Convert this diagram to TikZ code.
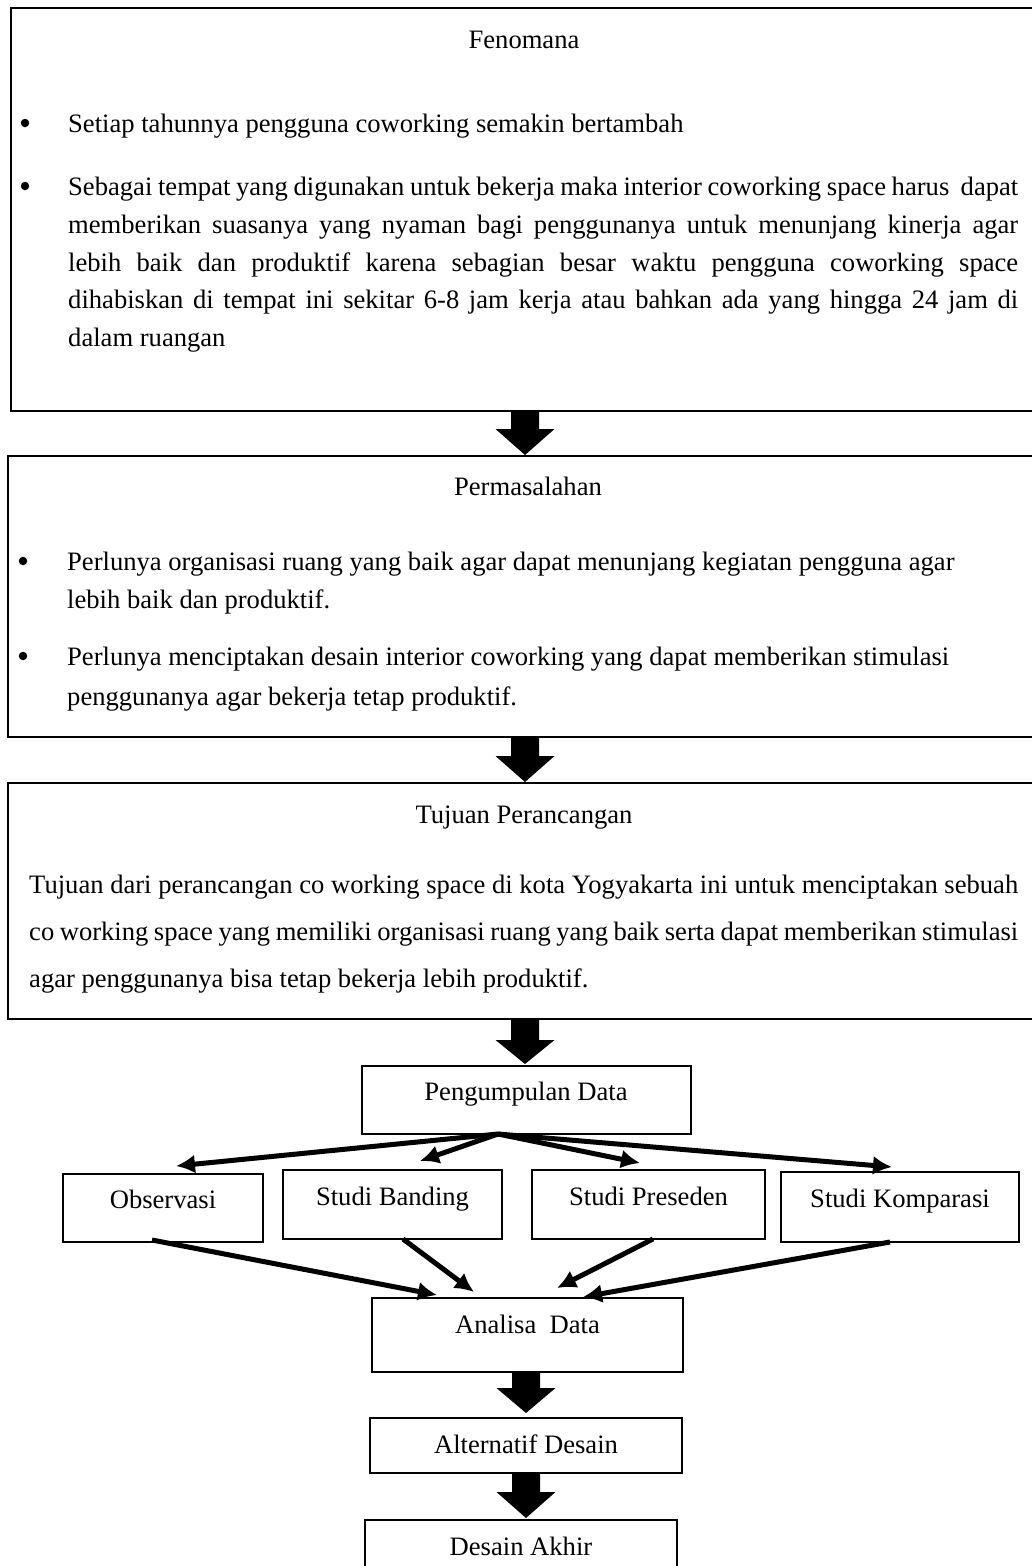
\documentclass[tikz,border=0pt]{standalone}
\usepackage{fontspec}
\setmainfont{Liberation Serif}
\usetikzlibrary{arrows.meta}
\newcommand\blockarr[4]{\fill[black] (#1-14,#2) -- (#1+14,#2) -- (#1+14,#3) -- (#1+29.5,#3) -- (#1,#4) -- (#1-29.5,#3) -- (#1-14,#3) -- cycle;}
\begin{document}
\begin{tikzpicture}[x=1pt,y=-1pt,
  frame/.style={draw=black, line width=1.4pt, inner sep=0pt, fill=none},
  txt/.style={inner sep=0pt, anchor=base, font=\fontsize{26.6}{32}\selectfont},
  txtl/.style={txt, anchor=base west},
  bul/.style={circle, fill=black, inner sep=0pt, minimum size=8.5pt},
  link/.style={line width=5pt, -{Latex[length=19pt,width=19pt]}}]
\clip (0,0) rectangle (1032,1566);
\fill[white] (0,0) rectangle (1032,1566);
% boxes
\node[frame, minimum width=1024pt, minimum height=403pt] (b1) at (523,209.5) {};
\node[frame, minimum width=1027pt, minimum height=281pt] (b2) at (521.5,596.5) {};
\node[frame, minimum width=1027pt, minimum height=236pt] (b3) at (521.5,901) {};
\node[frame, minimum width=329pt, minimum height=68pt] (pd) at (526.5,1100) {};
\node[frame, minimum width=200pt, minimum height=68pt] (obs) at (163,1208) {};
\node[frame, minimum width=219pt, minimum height=69pt] (ban) at (392.5,1204.5) {};
\node[frame, minimum width=233pt, minimum height=69pt] (pre) at (648.5,1204.5) {};
\node[frame, minimum width=238pt, minimum height=70pt] (kom) at (900,1207) {};
\node[frame, minimum width=311pt, minimum height=74pt] (ana) at (527.5,1335) {};
\node[frame, minimum width=312pt, minimum height=55pt] (alt) at (526,1445.5) {};
\node[frame, minimum width=312pt, minimum height=60pt] (akh) at (521,1550) {};
% box 1 text
\node[txt] (t1h) at (524,48) {Fenomana};
\node[bul] (t1b1) at (25,123) {};
\node[txtl] (t1a) at (68,132) {Setiap tahunnya pengguna coworking semakin bertambah};
\node[bul] (t1b2) at (25,186) {};
\node[txtl] (t1c) at (68,195) {\makebox[950pt][s]{Sebagai tempat yang digunakan untuk bekerja maka interior coworking space harus\ \ dapat}};
\node[txtl] (t1d) at (68,233) {\makebox[950pt][s]{memberikan suasanya yang nyaman bagi penggunanya untuk menunjang kinerja agar}};
\node[txtl] (t1e) at (68,271) {\makebox[950pt][s]{lebih baik dan produktif karena sebagian besar waktu pengguna coworking space}};
\node[txtl] (t1f) at (68,308) {\makebox[950pt][s]{dihabiskan di tempat ini sekitar 6-8 jam kerja atau bahkan ada yang hingga 24 jam di}};
\node[txtl] (t1g) at (68,346) {dalam ruangan};
% box 2 text
\node[txt] (t2h) at (528,495) {Permasalahan};
\node[bul] (t2b1) at (23,561) {};
\node[txtl] (t2a) at (67,570) {Perlunya organisasi ruang yang baik agar dapat menunjang kegiatan pengguna agar};
\node[txtl] (t2b) at (67,608) {lebih baik dan produktif.};
\node[bul] (t2b2) at (23,656) {};
\node[txtl] (t2c) at (67,665) {Perlunya menciptakan desain interior coworking yang dapat memberikan stimulasi};
\node[txtl] (t2d) at (67,705) {penggunanya agar bekerja tetap produktif.};
% box 3 text
\node[txt] (t3h) at (524,823) {Tujuan Perancangan};
\node[txtl] (t3a) at (29,893) {\makebox[989pt][s]{Tujuan dari perancangan co working space di kota Yogyakarta ini untuk menciptakan sebuah}};
\node[txtl] (t3b) at (29,940) {\makebox[989pt][s]{co working space yang memiliki organisasi ruang yang baik serta dapat memberikan stimulasi}};
\node[txtl] (t3c) at (29,987) {agar penggunanya bisa tetap bekerja lebih produktif.};
% small boxes text
\node[txt] (tpd) at (526,1100) {Pengumpulan Data};
\node[txt] (tobs) at (163,1208) {Observasi};
\node[txt] (tban) at (392.5,1205) {Studi Banding};
\node[txt] (tpre) at (648.5,1205) {Studi Preseden};
\node[txt] (tkom) at (900,1207) {Studi Komparasi};
\node[txt] (tana) at (527.5,1333) {Analisa\ \ Data};
\node[txt] (talt) at (526,1453) {Alternatif Desain};
\node[txt] (takh) at (521,1555) {Desain Akhir};
% block arrows
\blockarr{525}{411}{429}{455}
\blockarr{525}{737}{756}{782}
\blockarr{525}{1019}{1040}{1064}
\blockarr{526}{1372}{1388}{1413}
\blockarr{526}{1473}{1492}{1518}
% fan-out arrows
\coordinate (pdo) at (498,1134);
\coordinate (eo) at (176,1166);
\coordinate (eb) at (420,1161);
\coordinate (ep) at (640,1163);
\coordinate (ek) at (892,1167);
\draw[link] (pdo) -- (eo);
\draw[link] (pdo) -- (eb);
\draw[link] (pdo) -- (ep);
\draw[link] (pdo) -- (ek);
% fan-in arrows
\coordinate (so) at (152,1240);
\coordinate (sb) at (403,1239);
\coordinate (sp) at (653,1239);
\coordinate (sk) at (890,1242);
\coordinate (ao) at (437,1295);
\coordinate (ab) at (474,1292);
\coordinate (ap) at (557,1288);
\coordinate (ak) at (583,1297);
\draw[link] (so) -- (ao);
\draw[link] (sb) -- (ab);
\draw[link] (sp) -- (ap);
\draw[link] (sk) -- (ak);
\end{tikzpicture}
\end{document}
